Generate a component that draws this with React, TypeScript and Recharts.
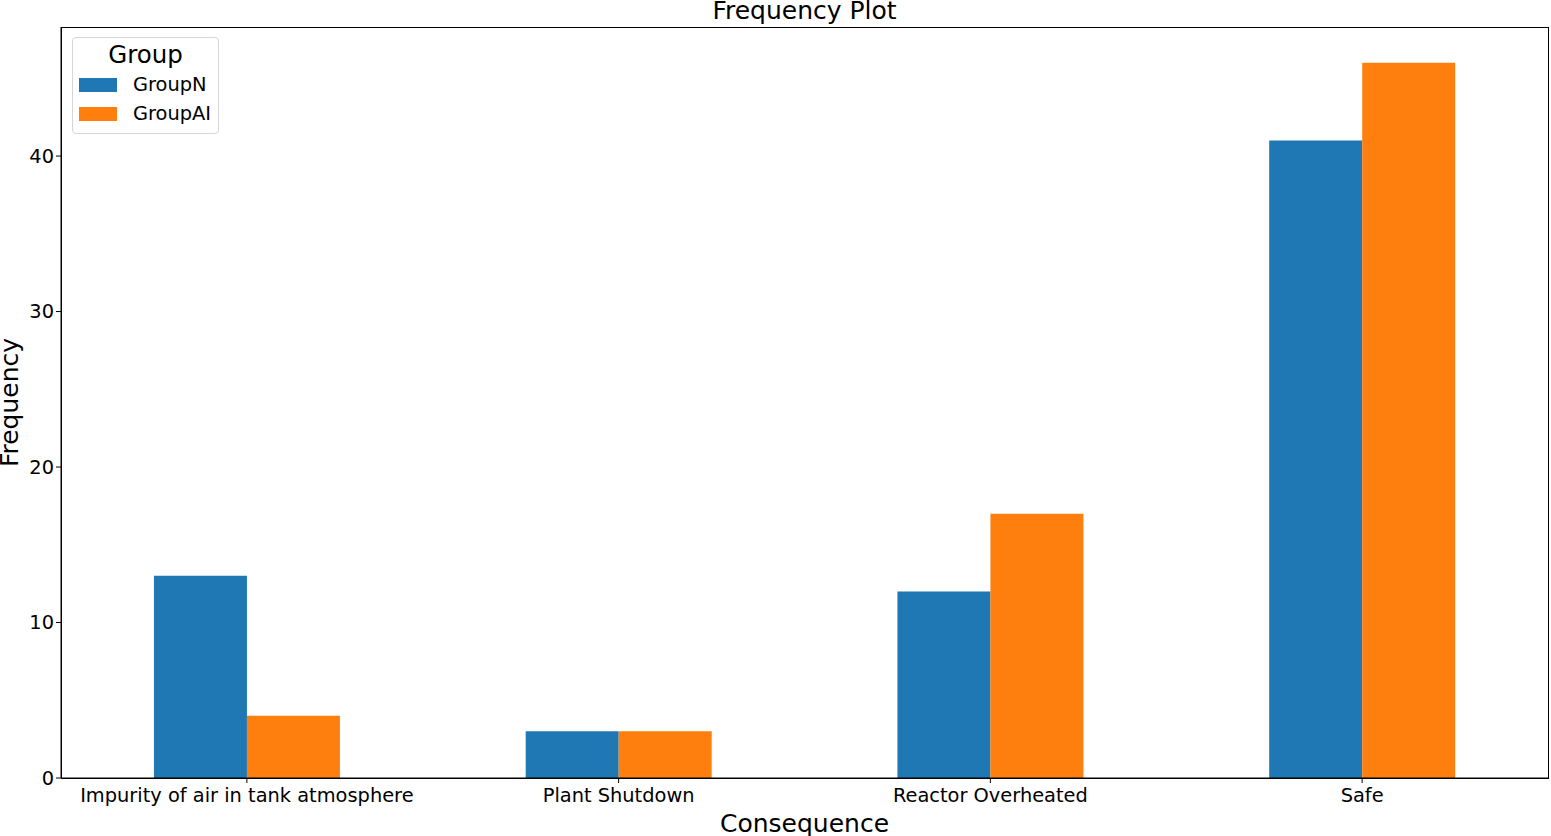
import { BarChart, Bar, XAxis, YAxis, Label } from 'recharts';

const categories = ['Impurity of air in tank atmosphere', 'Plant Shutdown', 'Reactor Overheated', 'Safe'];
const groupN = [13, 3, 12, 41];
const groupAI = [4, 3, 17, 46];
const yTicks = [0, 10, 20, 30, 40];

const FONT = '"DejaVu Sans", sans-serif';
const BLUE = '#1f77b4';
const ORANGE = '#ff7f0e';

const data = categories.map((c, i) => ({ name: c, GroupN: groupN[i], GroupAI: groupAI[i] }));

// plot box (matplotlib axes) in page pixels
const PLOT = { left: 61, top: 27, right: 1548, bottom: 778 };

function LegendBox() {
    return (
        <div
            style={{
                position: 'absolute',
                left: 72,
                top: 37,
                width: 147,
                height: 97,
                border: '1px solid #d6d6d6',
                borderRadius: 4,
                background: 'rgba(255,255,255,0.8)',
                fontFamily: FONT,
                boxSizing: 'border-box',
            }}
        >
            <div style={{ fontSize: 24.5, textAlign: 'center', marginTop: 2, lineHeight: '30px' }}>Group</div>
            {[
                { label: 'GroupN', color: BLUE },
                { label: 'GroupAI', color: ORANGE },
            ].map((it) => (
                <div key={it.label} style={{ display: 'flex', alignItems: 'center', height: 29, marginLeft: 6 }}>
                    <span style={{ width: 38, height: 14, background: it.color, display: 'inline-block' }} />
                    <span style={{ fontSize: 19.4, marginLeft: 16 }}>{it.label}</span>
                </div>
            ))}
        </div>
    );
}

export default function App() {
    return (
        <div style={{ position: 'absolute', left: 0, top: 0, width: 1551, height: 836, background: '#fff', overflow: 'hidden' }}>
            <div
                style={{
                    position: 'absolute',
                    top: -2,
                    left: PLOT.left,
                    width: PLOT.right - PLOT.left,
                    textAlign: 'center',
                    fontFamily: FONT,
                    fontSize: 25,
                    lineHeight: '26px',
                }}
            >
                Frequency Plot
            </div>
            <BarChart
                width={1551}
                height={836}
                data={data}
                margin={{ top: PLOT.top, right: 1551 - PLOT.right, left: 0, bottom: 0 }}
                barCategoryGap="25%"
                barGap={0}
            >
                <XAxis
                    dataKey="name"
                    height={836 - PLOT.bottom}
                    interval={0}
                    stroke="#000"
                    tickSize={5}
                    tick={{ fontSize: 19.4, fill: '#000', fontFamily: FONT, dy: 3 }}
                >
                    <Label value="Consequence" position="insideBottom" offset={4} style={{ fontSize: 25, fill: '#000', fontFamily: FONT }} />
                </XAxis>
                <YAxis
                    width={PLOT.left}
                    domain={[0, 48.3]}
                    ticks={yTicks}
                    allowDataOverflow
                    stroke="#000"
                    tickSize={5}
                    tick={{ fontSize: 19.4, fill: '#000', fontFamily: FONT }}
                >
                    <Label
                        value="Frequency"
                        angle={-90}
                        position="insideLeft"
                        offset={0}
                        dx={9}
                        style={{ fontSize: 25, fill: '#000', fontFamily: FONT, textAnchor: 'middle' }}
                    />
                </YAxis>
                <Bar dataKey="GroupN" fill={BLUE} isAnimationActive={false} />
                <Bar dataKey="GroupAI" fill={ORANGE} isAnimationActive={false} />
            </BarChart>
            {/* axes frame */}
            <div
                style={{
                    position: 'absolute',
                    left: PLOT.left - 0.5,
                    top: PLOT.top - 0.5,
                    width: PLOT.right - PLOT.left + 1,
                    height: PLOT.bottom - PLOT.top + 1,
                    border: '1px solid #000',
                    boxSizing: 'border-box',
                    pointerEvents: 'none',
                }}
            />
            <LegendBox />
        </div>
    );
}
